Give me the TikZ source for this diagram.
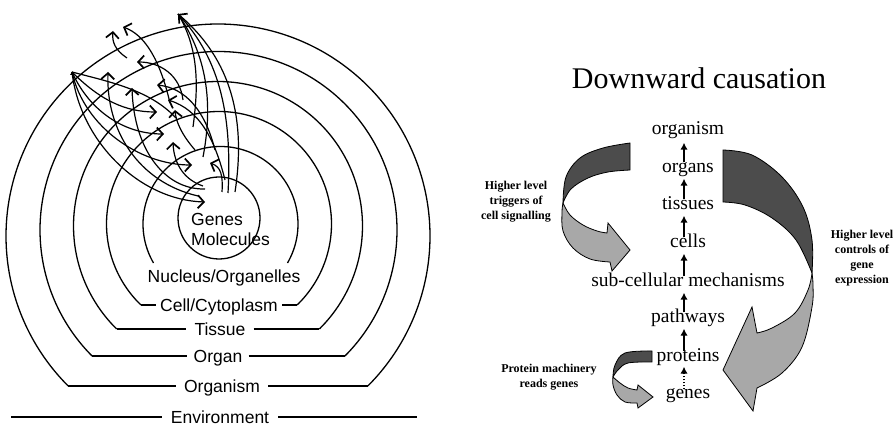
\documentclass[tikz,border=0pt]{standalone}
\usepackage{fontspec}
\setmainfont{Liberation Serif}
\newfontfamily\sansf{Liberation Sans}
\usetikzlibrary{arrows.meta}
\definecolor{ribdark}{gray}{0.30}
\definecolor{riblight}{gray}{0.66}
\begin{document}
\begin{tikzpicture}[x=1pt,y=-1pt,
  ring/.style={line width=1.3pt},
  lab/.style={font=\sansf\fontsize{17.5}{20}\selectfont, inner ysep=0pt, inner xsep=6pt, text height=12.5pt, text depth=0pt},
  causal/.style={line width=1.2pt, -{Straight Barb[length=6pt,width=13pt,line width=1.7pt]}},
  plainc/.style={line width=1.2pt},
  lvl/.style={font=\fontsize{19.5}{22}\selectfont, inner sep=0pt, text height=9pt, text depth=0pt},
  uparrow/.style={line width=2.4pt, -{Latex[length=7pt,width=7.5pt]}},
  dotuparrow/.style={line width=2.4pt, dash pattern=on 1.5pt off 1.5pt, -{Latex[length=7pt,width=7.5pt]}},
  note/.style={font=\bfseries\fontsize{12}{15}\selectfont, align=center, inner sep=0pt},
  ribdk/.style={fill=ribdark, draw=black, line width=0.8pt},
  riblt/.style={fill=riblight, draw=black, line width=0.8pt},
]
\useasboundingbox (0,0) rectangle (896,427);

% ---------------- left: nested levels ----------------
\draw[ring] (219,218) circle[radius=41];
\node[font=\sansf\fontsize{17.5}{20}\selectfont, anchor=west, inner sep=0pt] (genes) at (191,219) {Genes};
\node[font=\sansf\fontsize{17.5}{20}\selectfont, anchor=west, inner sep=0pt] (molec) at (191,239) {Molecules};

\draw[ring] plot[domain=149.8:390.2, samples=120, smooth] ({220.5+77.5*cos(\x)}, {224+77.5*sin(\x)});
\node[lab] (nuc) at (224,276) {Nucleus/Organelles};

\draw[ring] plot[domain=133.95:406.05, samples=140, smooth] ({219+112.5*cos(\x)}, {224+112.5*sin(\x)});
\coordinate (cellL) at (141,305);
\coordinate (cellR) at (297,305);
\node[lab, inner xsep=4pt] (cell) at (219,305) {Cell/Cytoplasm};
\draw[ring] (cellL) -- (cell.west);
\draw[ring] (cell.east) -- (cellR);

\draw[ring] plot[domain=134.53:405.47, samples=160, smooth] ({218+144.5*cos(\x)}, {226+144.5*sin(\x)});
\coordinate (tisL) at (116.7,329);
\coordinate (tisR) at (319.3,329);
\node[lab, inner xsep=8pt] (tissue) at (220,329) {Tissue};
\draw[ring] (tisL) -- (tissue.west);
\draw[ring] (tissue.east) -- (tisR);

\draw[ring] plot[domain=135.1:404.9, samples=180, smooth] ({218.5+178.5*cos(\x)}, {230+178.5*sin(\x)});
\coordinate (orgL) at (92.1,356);
\coordinate (orgR) at (344.9,356);
\node[lab] (organ) at (218,356) {Organ};
\draw[ring] (orgL) -- (organ.west);
\draw[ring] (organ.east) -- (orgR);

\draw[ring] plot[domain=134.96:405.04, samples=200, smooth] ({218+212*cos(\x)}, {236+212*sin(\x)});
\coordinate (omL) at (68.2,386);
\coordinate (omR) at (367.8,386);
\node[lab, inner xsep=8pt] (organism) at (222,386) {Organism};
\draw[ring] (omL) -- (organism.west);
\draw[ring] (organism.east) -- (omR);

\coordinate (envL) at (11,417);
\coordinate (envR) at (417,417);
\node[lab, inner xsep=9pt] (env) at (220,417) {Environment};
\draw[ring] (envL) -- (env.west);
\draw[ring] (env.east) -- (envR);

% ---------------- left: causal arrows ----------------
\coordinate (S) at (72,72);
\coordinate (apex) at (178,14);
% downward
\draw[causal] (S) .. controls (100,100) and (125,112) .. (157,112);
\draw[causal] (S) .. controls (90,112) and (125,134) .. (164,134);
\draw[causal] (S) .. controls (84,127) and (140,165) .. (192,165);
\draw[causal] (S) .. controls (80,142) and (140,200) .. (205,202);
\draw[plainc] (S) .. controls (110,82) and (150,90) .. (176,118);
\fill (S) -- ++(-2,3) -- ++(4,0) -- cycle;
% upward from genes
\draw[causal] (198,196) .. controls (138,182) and (106,130) .. (108,72);
\draw[causal] (205,189) .. controls (165,190) and (134,150) .. (132,88);
\draw[causal] (203,186) .. controls (185,180) and (174,165) .. (173,142);
\draw[causal] (222,192) .. controls (223,175) and (221,167) .. (210,163);
% to apex
\draw[plainc] (193,127) .. controls (198,90) and (200,50) .. (apex);
\draw[plainc] (203,157) .. controls (212,110) and (210,60) .. (apex);
\draw[plainc] (228,193) .. controls (232,120) and (222,60) .. (apex);
\draw[causal] (235,192) .. controls (246,120) and (232,60) .. (apex);
% middle levels
\draw[causal] (170,103) .. controls (160,60) and (145,35) .. (123,27);
\draw[causal] (127,58) .. controls (115,50) and (112,42) .. (113,31);
\draw[causal] (183,100) .. controls (180,75) and (160,62) .. (137,62);
\draw[causal] (215,150) .. controls (205,110) and (185,88) .. (157,85);
\draw[causal] (225,180) .. controls (215,140) and (200,110) .. (168,100);
\draw[causal] (195,150) .. controls (182,135) and (176,122) .. (175,110);

% ---------------- right: downward causation ----------------
\node[font=\fontsize{30}{34}\selectfont, inner sep=0pt] (title) at (699,78) {Downward causation};

\node[lvl] (lorganism) at (688,130) {organism};
\node[lvl] (lorgans) at (688,168) {organs};
\node[lvl] (ltissues) at (688,205) {tissues};
\node[lvl] (lcells) at (688,243) {cells};
\node[lvl] (lsub) at (688,282) {sub-cellular mechanisms};
\node[lvl] (lpath) at (688,318) {pathways};
\node[lvl] (lprot) at (688,357) {proteins};
\node[lvl] (lgenes) at (688,394) {genes};

\draw[uparrow] ([xshift=-4pt,yshift=1pt]lorgans.north) -- ([xshift=-4pt,yshift=-8pt]lorganism.south);
\draw[uparrow] ([xshift=-4pt,yshift=1pt]ltissues.north) -- ([xshift=-4pt,yshift=-6pt]lorgans.south);
\draw[uparrow] ([xshift=-4pt,yshift=1pt]lcells.north) -- ([xshift=-4pt,yshift=-6pt]ltissues.south);
\draw[uparrow] ([xshift=-4pt,yshift=1pt]lsub.north) -- ([xshift=-4pt,yshift=-6pt]lcells.south);
\draw[uparrow] ([xshift=-4pt,yshift=1pt]lpath.north) -- ([xshift=-4pt,yshift=-6pt]lsub.south);
\draw[uparrow] ([xshift=-4pt,yshift=1pt]lprot.north) -- ([xshift=-4pt,yshift=-6pt]lpath.south);
\draw[dotuparrow] ([xshift=-4pt]lgenes.north) -- ([xshift=-4pt,yshift=-5pt]lprot.south);

% left ribbon arrow
\path[ribdk] plot[smooth,tension=0.6] coordinates {(630,143) (603,148) (580,158) (566,177) (563,203)}
  -- plot[smooth,tension=0.6] coordinates {(563,203) (571,189) (588,178) (608,172) (630,170)} -- cycle;
\path[riblt] plot[smooth,tension=0.6] coordinates {(563,203) (570,215) (583,225) (597,231) (607,233)}
  -- (608,223) -- (630,250) -- (612,271) -- (610,262)
  -- plot[smooth,tension=0.6] coordinates {(610,262) (590,259) (573,248) (563,231) (562,212) (563,203)} -- cycle;

% right ribbon arrow
\path[ribdk] plot[smooth,tension=0.6] coordinates {(723,150) (752,155) (782,177) (803,207) (812,240) (812,273)}
  -- plot[smooth,tension=0.6] coordinates {(812,273) (796,240) (772,218) (745,205) (723,202)} -- cycle;
\path[riblt] plot[smooth,tension=0.6] coordinates {(812,273) (808,290) (795,313) (772,328) (757,333)}
  -- (752,307) -- (723,370) -- (753,411) -- (757,388)
  -- plot[smooth,tension=0.6] coordinates {(757,388) (782,373) (802,347) (812,307) (813,285) (812,273)} -- cycle;

% small ribbon arrow
\path[ribdk] plot[smooth,tension=0.6] coordinates {(652,351) (625,353) (615,365) (613,377)}
  -- plot[smooth,tension=0.6] coordinates {(613,377) (618,370) (628,363) (652,362)} -- cycle;
\path[riblt] plot[smooth,tension=0.6] coordinates {(613,377) (620,383) (628,388) (637,390)}
  -- (638,385) -- (653,397) -- (638,408) -- (637,403)
  -- plot[smooth,tension=0.6] coordinates {(637,403) (625,402) (617,395) (613,385) (613,377)} -- cycle;

\node[note] (ntrig) at (516,202) {Higher level\\triggers of\\cell signalling};
\node[note] (nctrl) at (862,258.5) {Higher level\\controls of\\gene\\expression};
\node[note] (nread) at (549,377.5) {Protein machinery\\reads genes};
\end{tikzpicture}
\end{document}
